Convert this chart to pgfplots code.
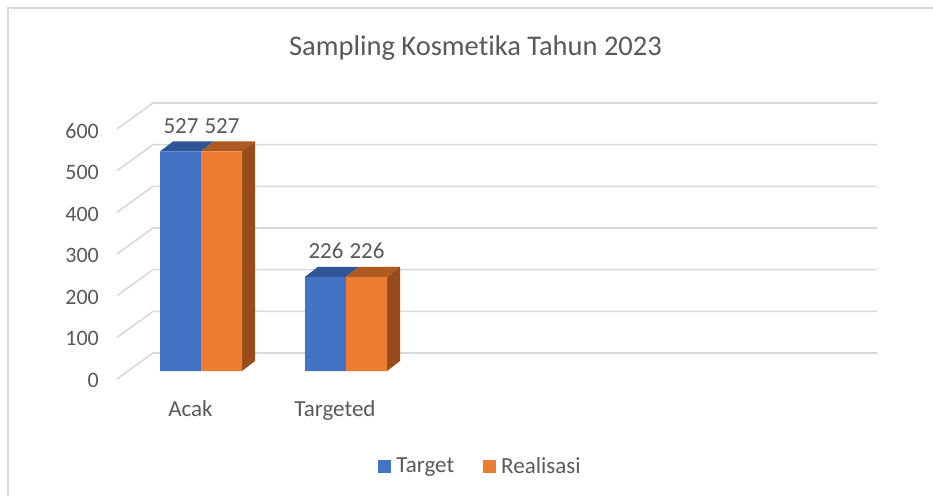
\documentclass[border=0pt]{standalone}
\usepackage{pgfplots}
\pgfplotsset{compat=1.18}
\usepackage{fontspec}
\setmainfont{Carlito}[Ligatures=NoCommon]
\definecolor{txt}{HTML}{595959}
\definecolor{gridc}{HTML}{D9D9D9}
\definecolor{bfront}{HTML}{4472C4}
\definecolor{btop}{HTML}{2F5597}
\definecolor{ofront}{HTML}{ED7D31}
\definecolor{otop}{HTML}{AE5A21}
\definecolor{oside}{HTML}{984C1B}
% pixel -> axis coordinates
\newcommand\pp[2]{(axis cs:{(#1-201)/145},{(371-#2)*2.4})}
\begin{document}
\begin{tikzpicture}
\begin{axis}[
  width=933pt, height=495pt, scale only axis,
  xmin=-1.386207, xmax=5.048276, ymin=-297.6, ymax=890.4,
  hide axis, clip=false,
  /pgf/number format/assume math mode=true,
  legend style={draw=none, fill=none, at={(0.515,0.058)}, anchor=center,
    font=\fontsize{23}{27}\selectfont, text=txt,
    /tikz/every odd column/.append style={column sep=3pt},
    /tikz/every even column/.append style={column sep=27pt}},
  legend columns=2, legend cell align=left,
]
\coordinate (SW) at (rel axis cs:0,0);
\coordinate (NE) at (rel axis cs:1,1);
% chart border
\draw[gridc, line width=1.5pt] \pp{8}{497} -- \pp{8}{8} -- \pp{935}{8};
% gridlines (floor edge + back wall)
\pgfplotsinvokeforeach{0,...,6}{
  \draw[gridc, line width=1.6pt] \pp{117}{(379-41.667*#1)} -- \pp{153}{(353-41.667*#1)} -- \pp{877}{(353-41.667*#1)};
}
% title
\node[anchor=base, inner sep=0pt, text=txt, font=\fontsize{28.5}{34}\selectfont] at \pp{475.5}{56} {Sampling Kosmetika Tahun 2023};
% y tick labels
\node[anchor=base east, inner sep=0pt, text=txt, font=\fontsize{22}{26}\selectfont] at \pp{99}{387} {0};
\node[anchor=base east, inner sep=0pt, text=txt, font=\fontsize{22}{26}\selectfont] at \pp{99}{345.5} {100};
\node[anchor=base east, inner sep=0pt, text=txt, font=\fontsize{22}{26}\selectfont] at \pp{99}{304} {200};
\node[anchor=base east, inner sep=0pt, text=txt, font=\fontsize{22}{26}\selectfont] at \pp{99}{262.5} {300};
\node[anchor=base east, inner sep=0pt, text=txt, font=\fontsize{22}{26}\selectfont] at \pp{99}{221} {400};
\node[anchor=base east, inner sep=0pt, text=txt, font=\fontsize{22}{26}\selectfont] at \pp{99}{179.5} {500};
\node[anchor=base east, inner sep=0pt, text=txt, font=\fontsize{22}{26}\selectfont] at \pp{99}{138} {600};
% category labels
\node[anchor=base, inner sep=0pt, text=txt, font=\fontsize{23}{27}\selectfont] at \pp{190.5}{416} {Acak};
\node[anchor=base, inner sep=0pt, text=txt, font=\fontsize{23}{27}\selectfont] at \pp{335}{416} {Targeted};

% 3D faces: tops and side (depth: 13px right, 10px up = 0.08966 x-units, 24 y-units)
\addplot[forget plot, fill=btop, draw=none] coordinates {(-0.28276,527) (0,527) (0.08966,551) (-0.19310,551)};
\addplot[forget plot, fill=otop, draw=none] coordinates {(0,527) (0.28276,527) (0.37241,551) (0.08966,551)};
\addplot[forget plot, fill=oside, draw=none] coordinates {(0.28276,0) (0.37241,24) (0.37241,551) (0.28276,527)};
\addplot[forget plot, fill=btop, draw=none] coordinates {(0.71724,226) (1,226) (1.08966,250) (0.80690,250)};
\addplot[forget plot, fill=otop, draw=none] coordinates {(1,226) (1.28276,226) (1.37241,250) (1.08966,250)};
\addplot[forget plot, fill=oside, draw=none] coordinates {(1.28276,0) (1.37241,24) (1.37241,250) (1.28276,226)};

% front faces
\addplot[ybar, bar width=41pt, bar shift=-20.5pt, fill=bfront, draw=none,
  nodes near coords,
  every node near coord/.append style={font=\fontsize{23}{27}\selectfont, text=txt, anchor=south, inner sep=0pt, xshift=-20pt, yshift=17.5pt},
  legend image code/.code={\fill[bfront] (0pt,-6.5pt) rectangle (13pt,6.5pt);}]
  coordinates {(0,527) (1,226)};
\addlegendentry{Target}
\addplot[ybar, bar width=41pt, bar shift=20.5pt, fill=ofront, draw=none,
  nodes near coords,
  every node near coord/.append style={font=\fontsize{23}{27}\selectfont, text=txt, anchor=south, inner sep=0pt, xshift=21pt, yshift=17.5pt},
  legend image code/.code={\fill[ofront] (0pt,-6.5pt) rectangle (13pt,6.5pt);}]
  coordinates {(0,527) (1,226)};
\addlegendentry{Realisasi}
\end{axis}
\pgfresetboundingbox
\path[use as bounding box] (SW) rectangle (NE);
\end{tikzpicture}
\end{document}
